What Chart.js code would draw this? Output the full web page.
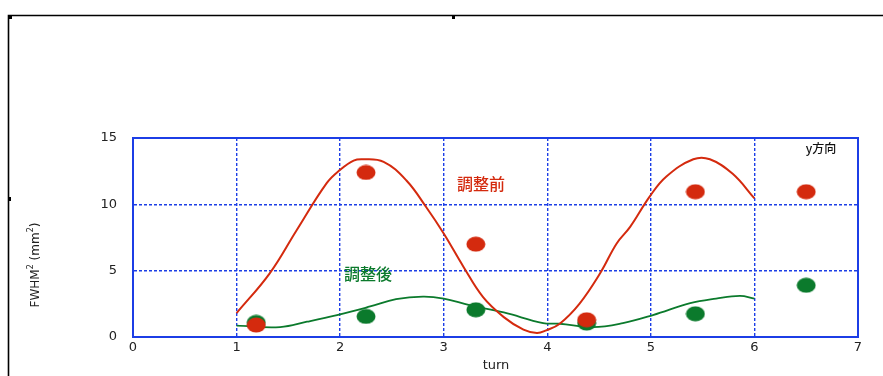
<!DOCTYPE html>
<html>
<head>
<meta charset="utf-8">
<script src="https://cdn.jsdelivr.net/npm/chart.js@4/dist/chart.umd.min.js"></script>
<style>
html, body { margin: 0; padding: 0; background: #fff; }
#wrap { position: relative; width: 883px; height: 376px; }
</style>
</head>
<body>
<div id="wrap"><canvas id="myChart" width="883" height="376"></canvas></div>
<script>
// measured points (turn, FWHM^2)
var dotTurns = [1.19, 2.25, 3.31, 4.38, 5.43, 6.5];
var beforeDots = [0.9, 12.4, 7.0, 1.3, 10.95, 10.95];
var afterDots = [1.1, 1.55, 2.05, 1.05, 1.75, 3.9];

// fitted curves
var beforeCurveX = [1.0, 1.32, 1.58, 1.87, 2.0, 2.13, 2.22, 2.42, 2.64, 2.83, 3.0, 3.19, 3.38, 3.58, 3.77, 3.9, 3.99, 4.12, 4.31, 4.51, 4.67, 4.8, 4.99, 5.15, 5.41, 5.57, 5.79, 6.0];
var beforeCurveY = [1.8, 4.8, 8.05, 11.6, 12.6, 13.3, 13.4, 13.2, 11.8, 9.8, 7.8, 5.3, 3.0, 1.5, 0.55, 0.3, 0.5, 1.0, 2.5, 4.8, 7.05, 8.3, 10.6, 12.1, 13.4, 13.4, 12.3, 10.45];
var afterCurveX = [1.0, 1.42, 1.68, 1.97, 2.29, 2.54, 2.8, 3.0, 3.25, 3.58, 3.96, 4.12, 4.44, 4.73, 5.02, 5.38, 5.63, 5.86, 6.0];
var afterCurveY = [0.85, 0.75, 1.15, 1.65, 2.3, 2.85, 3.05, 2.9, 2.4, 1.85, 1.05, 1.0, 0.75, 1.05, 1.65, 2.55, 2.9, 3.1, 2.9];

var xTicks = [0, 1, 2, 3, 4, 5, 6, 7];
var yTicks = [0, 5, 10, 15];

var RED = '#d42a0e';
var GREEN = '#0b7a2c';
var BLUE = '#1c3ee6';

function pts(xs, ys) {
    return xs.map(function (x, i) { return { x: x, y: ys[i] }; });
}

function ellipse(color) {
    var c = document.createElement('canvas');
    c.width = 20; c.height = 16;
    var g = c.getContext('2d');
    g.fillStyle = color;
    g.beginPath();
    g.ellipse(10, 8, 9.5, 7.5, 0, 0, Math.PI * 2);
    g.fill();
    return c;
}

var extras = {
    id: 'extras',
    afterDraw: function (chart) {
        var ctx = chart.ctx;
        var a = chart.chartArea;
        ctx.save();
        // plot frame
        ctx.strokeStyle = BLUE;
        ctx.lineWidth = 2;
        ctx.strokeRect(a.left, a.top, a.right - a.left, a.bottom - a.top);

        // outer black frame
        ctx.strokeStyle = '#000';
        ctx.lineWidth = 1.6;
        ctx.beginPath();
        ctx.moveTo(883, 15.5);
        ctx.lineTo(8.5, 15.5);
        ctx.lineTo(8.5, 376);
        ctx.stroke();
        ctx.fillStyle = '#000';
        ctx.fillRect(8, 15, 4, 4);
        ctx.fillRect(452, 15, 3, 4);
        ctx.fillRect(8, 197, 3, 4);

        // labels
        ctx.textAlign = 'center';
        ctx.textBaseline = 'middle';
        ctx.font = '500 16px "Noto Sans CJK JP"';
        ctx.fillStyle = RED;
        ctx.fillText('調整前', 481, 184);
        ctx.fillStyle = GREEN;
        ctx.fillText('調整後', 368, 274);
        ctx.fillStyle = '#111';
        ctx.font = '500 12px "Noto Sans CJK JP"';
        ctx.fillText('y方向', 821, 148);

        ctx.font = '13px "DejaVu Sans"';
        ctx.fillStyle = '#222';
        ctx.fillText('turn', 496, 366);

        // y title with superscripts
        ctx.translate(36, 265);
        ctx.rotate(-Math.PI / 2);
        var parts = [['FWHM', 0], ['2', 1], [' (mm', 0], ['2', 1], [')', 0]];
        var w = 0;
        parts.forEach(function (p) {
            ctx.font = (p[1] ? '8px' : '12px') + ' "DejaVu Sans"';
            w += ctx.measureText(p[0]).width;
        });
        var x = -w / 2;
        ctx.textAlign = 'left';
        parts.forEach(function (p) {
            ctx.font = (p[1] ? '8px' : '12px') + ' "DejaVu Sans"';
            ctx.fillText(p[0], x, p[1] ? -5 : 0);
            x += ctx.measureText(p[0]).width;
        });
        ctx.restore();
    }
};

var ctx = document.getElementById('myChart').getContext('2d');
var chart = new Chart(ctx, {
    type: 'scatter',
    data: {
        datasets: [{
            label: '調整前',
            data: pts(dotTurns, beforeDots),
            pointStyle: ellipse(RED),
            order: 0
        }, {
            label: '調整後',
            data: pts(dotTurns, afterDots),
            pointStyle: ellipse(GREEN),
            order: 1
        }, {
            label: 'fit before',
            data: pts(beforeCurveX, beforeCurveY),
            showLine: true,
            borderColor: RED,
            borderWidth: 2,
            pointRadius: 0,
            tension: 0.4,
            order: 2
        }, {
            label: 'fit after',
            data: pts(afterCurveX, afterCurveY),
            showLine: true,
            borderColor: GREEN,
            borderWidth: 1.8,
            pointRadius: 0,
            tension: 0.4,
            order: 3
        }]
    },
    options: {
        responsive: false,
        animation: false,
        layout: { padding: { left: 0, top: 138, right: 25, bottom: 0 } },
        plugins: {
            legend: { display: false },
            tooltip: { enabled: false }
        },
        scales: {
            x: {
                type: 'linear',
                min: 0,
                max: 7,
                afterFit: function (s) { s.height = 39; },
                afterBuildTicks: function (s) { s.ticks = xTicks.map(function (v) { return { value: v }; }); },
                grid: { color: BLUE, lineWidth: 1.4, drawTicks: false },
                border: { display: true, color: BLUE, width: 2, dash: [3, 2] },
                ticks: {
                    padding: 3,
                    color: '#222',
                    font: { family: 'DejaVu Sans', size: 13 }
                }
            },
            y: {
                min: 0,
                max: 15,
                afterFit: function (s) { s.width = 133; },
                afterBuildTicks: function (s) { s.ticks = yTicks.map(function (v) { return { value: v }; }); },
                grid: { color: BLUE, lineWidth: 1.4, drawTicks: false },
                border: { display: true, color: BLUE, width: 2, dash: [3, 2] },
                ticks: {
                    padding: 16,
                    color: '#222',
                    font: { family: 'DejaVu Sans', size: 13 }
                }
            }
        }
    },
    plugins: [extras]
});
</script>
</body>
</html>
